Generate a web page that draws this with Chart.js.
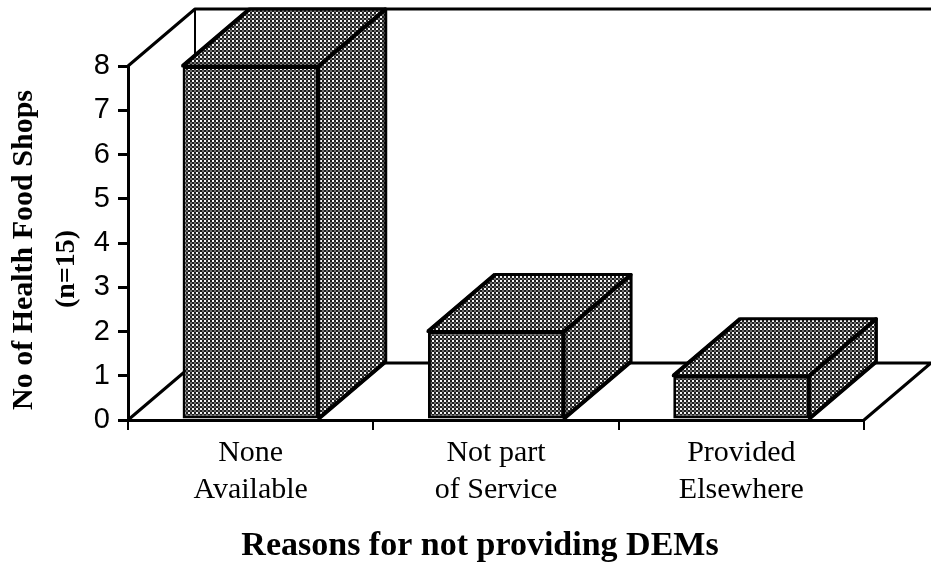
<!DOCTYPE html>
<html>
<head>
<meta charset="utf-8">
<style>
  html, body { margin: 0; padding: 0; background: #fff; }
  canvas { display: block; }
</style>
<script src="https://cdn.jsdelivr.net/npm/chart.js@4"></script>
</head>
<body>
<canvas id="shopsChart" width="931" height="564"></canvas>
<script>
const CATEGORIES = [['None', 'Available'], ['Not part', 'of Service'], ['Provided', 'Elsewhere']]
const SHOPS = [8, 2, 1]
const Y_TICKS = [0, 1, 2, 3, 4, 5, 6, 7, 8]
const Y_CAPTION = 'No of Health Food Shops'
const Y_SUBCAPTION = '(n=15)'
const X_CAPTION = 'Reasons for not providing DEMs'

// how far the back of the box sits from the front
const DEPTH_X = 67
const DEPTH_Y = -57
const SERIF = '"Liberation Serif", serif'

// small black tile with white dots, the printed halftone look
function halftone() {
  const tile = document.createElement('canvas')
  tile.width = 4
  tile.height = 4
  const c = tile.getContext('2d')
  c.fillStyle = '#1e1e1e'
  c.fillRect(0, 0, 4, 4)
  c.fillStyle = '#f4f4f4'
  c.fillRect(0, 0, 2, 2)
  c.fillStyle = '#6e6e6e'
  c.fillRect(2, 2, 2, 2)
  return c.createPattern(tile, 'repeat')
}

const fill = halftone()

function polyline(ctx, pts, width) {
  ctx.beginPath()
  pts.forEach((p, i) => i ? ctx.lineTo(p[0], p[1]) : ctx.moveTo(p[0], p[1]))
  ctx.lineWidth = width
  ctx.stroke()
}

// back wall and floor lines behind the bars
const roomPlugin = {
  id: 'room',
  beforeDatasetsDraw(chart) {
    const { ctx, chartArea: a } = chart
    ctx.save()
    ctx.strokeStyle = '#000'
    ctx.lineJoin = 'round'
    polyline(ctx, [[a.left, a.top], [a.left + DEPTH_X, a.top + DEPTH_Y], [a.right + DEPTH_X, a.top + DEPTH_Y]], 3)
    polyline(ctx, [[a.left + DEPTH_X, a.top + DEPTH_Y], [a.left + DEPTH_X, a.bottom + DEPTH_Y]], 2)
    polyline(ctx, [[a.left, a.bottom], [a.left + DEPTH_X, a.bottom + DEPTH_Y], [a.right + DEPTH_X, a.bottom + DEPTH_Y], [a.right, a.bottom]], 3)
    ctx.restore()
  }
}

// top and side faces of each bar
const boxPlugin = {
  id: 'box',
  afterDatasetsDraw(chart) {
    const { ctx } = chart
    ctx.save()
    ctx.strokeStyle = '#000'
    ctx.lineJoin = 'round'
    chart.getDatasetMeta(0).data.forEach(bar => {
      const left = bar.x - bar.width / 2
      const right = bar.x + bar.width / 2
      const top = bar.y
      const bottom = bar.base
      const dx = DEPTH_X
      const dy = DEPTH_Y
      const faces = [
        [[left, top], [left + dx, top + dy], [right + dx, top + dy], [right, top]],
        [[right, top], [right + dx, top + dy], [right + dx, bottom + dy], [right, bottom]]
      ]
      faces.forEach(face => {
        ctx.beginPath()
        face.forEach((p, i) => i ? ctx.lineTo(p[0], p[1]) : ctx.moveTo(p[0], p[1]))
        ctx.closePath()
        ctx.fillStyle = fill
        ctx.fill()
        ctx.lineWidth = 3
        ctx.stroke()
      })
      // the slanted edges print heavier than the rest
      polyline(ctx, [[left, top], [left + dx, top + dy]], 4)
      polyline(ctx, [[right, top], [right + dx, top + dy]], 4)
      polyline(ctx, [[right, bottom], [right + dx, bottom + dy]], 4)
    })
    ctx.restore()
  }
}

// axis captions sit off-centre from the plot, so they are placed here
const captionPlugin = {
  id: 'captions',
  afterDraw(chart) {
    const { ctx } = chart
    ctx.save()
    ctx.fillStyle = '#000'
    ctx.textAlign = 'center'
    ctx.textBaseline = 'middle'
    ctx.font = 'bold 34px ' + SERIF
    ctx.fillText(X_CAPTION, 480, 546)
    ctx.font = 'bold 30px ' + SERIF
    ctx.translate(24, 250)
    ctx.rotate(-Math.PI / 2)
    ctx.fillText(Y_CAPTION, 0, 0)
    ctx.font = 'bold 28px ' + SERIF
    ctx.fillText(Y_SUBCAPTION, -19, 43)
    ctx.restore()
  }
}

new Chart(document.getElementById('shopsChart'), {
  type: 'bar',
  data: {
    labels: CATEGORIES,
    datasets: [{
      data: SHOPS,
      backgroundColor: fill,
      borderColor: '#000',
      borderWidth: 3,
      borderSkipped: false,
      barPercentage: 0.555,
      categoryPercentage: 1
    }]
  },
  plugins: [roomPlugin, boxPlugin, captionPlugin],
  options: {
    responsive: false,
    animation: false,
    layout: { padding: { top: 66, right: 67, left: 0, bottom: 0 } },
    plugins: { legend: { display: false }, tooltip: { enabled: false } },
    scales: {
      x: {
        afterFit(scale) { scale.height = 144 },
        grid: { drawOnChartArea: false, color: '#000', lineWidth: 2, tickLength: 10 },
        border: { color: '#000', width: 3 },
        ticks: {
          color: '#000',
          maxRotation: 0,
          padding: 5,
          font: { family: SERIF, size: 30, lineHeight: 1.22 }
        }
      },
      y: {
        min: 0,
        max: 8,
        afterBuildTicks(scale) { scale.ticks = Y_TICKS.map(value => ({ value })) },
        afterFit(scale) { scale.width = 128 },
        grid: { drawOnChartArea: false, color: '#000', lineWidth: 3, tickLength: 10 },
        border: { color: '#000', width: 3 },
        ticks: {
          color: '#000',
          padding: 8,
          font: { family: '"Liberation Sans", sans-serif', size: 29 }
        }
      }
    }
  }
})
</script>
</body>
</html>
